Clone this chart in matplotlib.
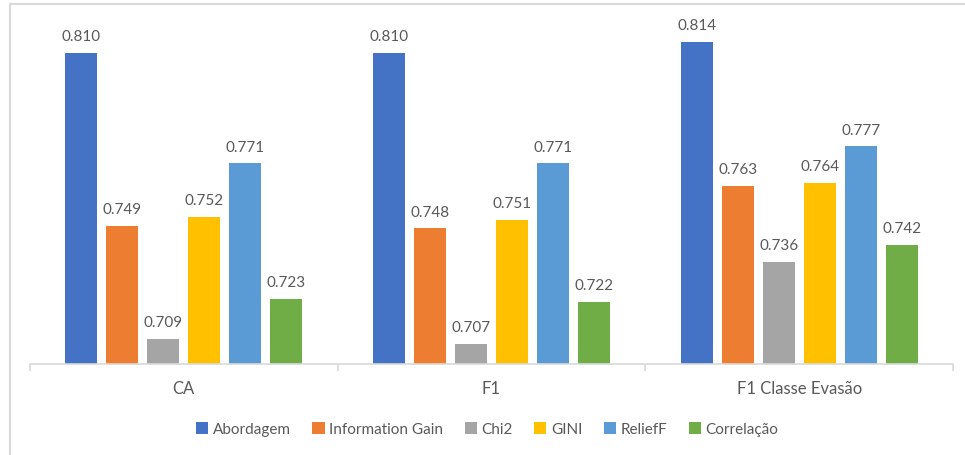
import matplotlib.pyplot as plt
import numpy as np
from matplotlib.patches import Rectangle

plt.rcParams['font.family'] = ['Lato', 'DejaVu Sans']

# scores per metric for each feature selection method
groups = ['CA', 'F1', 'F1 Classe Evasão']
series = ['Abordagem', 'Information Gain', 'Chi2', 'GINI', 'ReliefF', 'Correlação']
abordagem = [0.810, 0.810, 0.814]
info_gain = [0.749, 0.748, 0.763]
chi2 = [0.709, 0.707, 0.736]
gini = [0.752, 0.751, 0.764]
relieff = [0.771, 0.771, 0.777]
correlacao = [0.723, 0.722, 0.742]

values = [abordagem, info_gain, chi2, gini, relieff, correlacao]
colors = ['#4472C4', '#ED7D31', '#A5A5A5', '#FFC000', '#5B9BD5', '#70AD47']
text_color = '#595959'

fig = plt.figure(figsize=(9.65, 4.56), dpi=100)
ax = fig.add_axes([30 / 965, 91 / 456, 923 / 965, 339 / 456])

x = np.arange(len(groups))
pitch = 0.1333
width = 0.104
for i, (name, vals, c) in enumerate(zip(series, values, colors)):
    pos = x + (i - 2.5) * pitch
    bars = ax.bar(pos, vals, width, color=c, label=name, zorder=2)
    for b, v in zip(bars, vals):
        ax.text(b.get_x() + b.get_width() / 2, v + 0.0035, f'{v:.3f}',
                ha='center', va='bottom', fontsize=11, color=text_color,
                clip_on=False)

ax.set_ylim(0.70, 0.82)
ax.set_xlim(-0.5, 2.5)
ax.set_yticks([])
for s in ['top', 'right', 'left']:
    ax.spines[s].set_visible(False)
ax.spines['bottom'].set_color('#D9D9D9')
ax.spines['bottom'].set_linewidth(1.2)

ax.set_xticks([-0.5, 0.5, 1.5, 2.5])
ax.set_xticklabels([])
ax.tick_params(axis='x', length=5, color='#D9D9D9', width=1.2)
for xi, g in zip(x, groups):
    ax.text(xi, 0.6945, g, ha='center', va='top', fontsize=12,
            color=text_color)

leg = fig.legend(loc='center', bbox_to_anchor=(0.505, 0.057), ncol=6,
                 frameon=False, fontsize=11, handlelength=0.8,
                 handleheight=0.8, handletextpad=0.3, columnspacing=1.4)
for t in leg.get_texts():
    t.set_color(text_color)

# light frame around the chart area
fig.patches.append(Rectangle((10 / 965, -0.1), 1.0, (451 / 456) + 0.1,
                             transform=fig.transFigure, fill=False,
                             edgecolor='#D9D9D9', linewidth=1.5))

fig.savefig('out.png', dpi=100)
